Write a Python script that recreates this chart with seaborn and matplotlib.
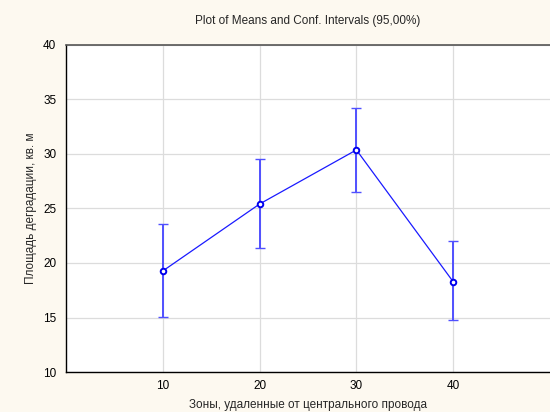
import matplotlib
matplotlib.use("Agg")
import matplotlib.pyplot as plt
import seaborn as sns
import pandas as pd
import numpy as np

zones = [10, 20, 30, 40]
means = [19.27, 25.41, 30.37, 18.28]
ci_low = [15.07, 21.35, 26.50, 14.74]
ci_high = [23.58, 29.57, 34.22, 21.99]

title = "Plot of Means and Conf. Intervals (95,00%)"
xlabel = "Зоны, удаленные от центрального провода"
ylabel = "Площадь деградации, кв. м"

sns.set_style("whitegrid")
plt.rcParams['font.family'] = ['Liberation Sans', 'DejaVu Sans']

df = pd.DataFrame({"zone": zones, "mean": means})

fig = plt.figure(figsize=(5.5, 4.12), dpi=100, facecolor="#FDF9F0")
ax = fig.add_axes([0.12, 0.097, 0.88, 0.794])
ax.set_facecolor("white")

lo = np.array(means) - np.array(ci_low)
hi = np.array(ci_high) - np.array(means)
ax.errorbar(zones, means, yerr=[lo, hi], fmt="none", ecolor="#5050ff",
            elinewidth=1.4, capsize=3.5, capthick=1.0, zorder=2)
sns.lineplot(data=df, x="zone", y="mean", ax=ax, color="#1a1aff", lw=0.9,
             marker="o", markersize=4, markerfacecolor="white",
             markeredgecolor="#0000ee", markeredgewidth=1.4, zorder=3)

ax.set_xlim(0, 50)
ax.set_ylim(10, 40)
ax.set_xticks(zones)
ax.set_yticks([10, 15, 20, 25, 30, 35, 40])
ax.grid(True, color="#dcdcdc", lw=0.9)
ax.tick_params(axis="both", labelsize=8.5, colors="black", length=0, pad=6)
ax.tick_params(axis="y", length=3, width=0.8, direction="out", pad=4)

for s in ["left", "bottom"]:
    ax.spines[s].set_color("black")
    ax.spines[s].set_linewidth(1.0)
ax.spines["top"].set_color("#555555")
ax.spines["top"].set_linewidth(1.2)
ax.spines["right"].set_visible(False)

ax.set_title(title, fontsize=8.5, pad=15)
ax.set_xlabel(xlabel, fontsize=8.5, labelpad=5)
ax.set_ylabel(ylabel, fontsize=8.5, labelpad=4)

fig.savefig("out.png", dpi=100, facecolor=fig.get_facecolor())
